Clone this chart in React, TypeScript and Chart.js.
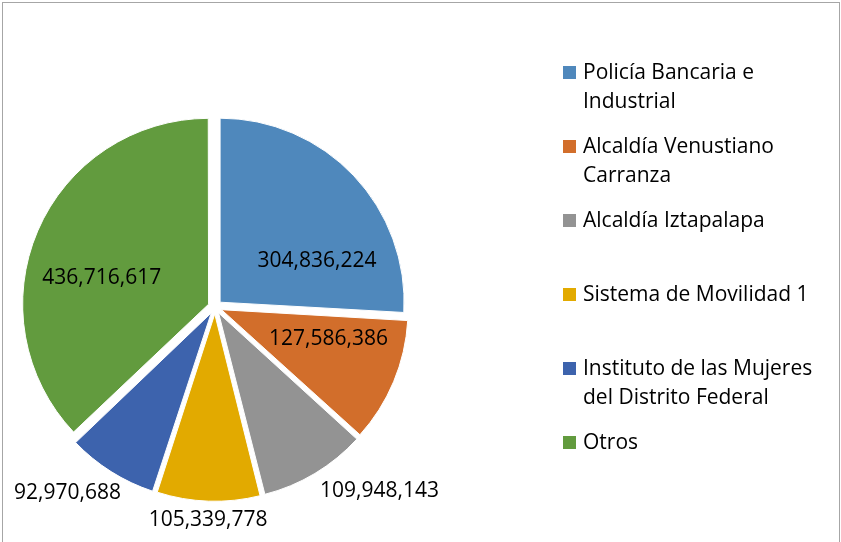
import React, { useEffect, useRef } from "react";
import { Chart, registerables } from "chart.js";

Chart.register(...registerables);

const categories: string[] = [
  "Policía Bancaria e Industrial",
  "Alcaldía Venustiano Carranza",
  "Alcaldía Iztapalapa",
  "Sistema de Movilidad 1",
  "Instituto de las Mujeres del Distrito Federal",
  "Otros",
];
const amounts: number[] = [304836224, 127586386, 109948143, 105339778, 92970688, 436716617];
const sliceColors: string[] = ["#4F88BC", "#D26E2B", "#939393", "#E2AA00", "#3D63AD", "#629B3E"];

const FONT = '"Open Sans", sans-serif';
const FONT_SIZE = 21;
const fmt = (v: number) => v.toLocaleString("en-US");

function wrap(ctx: CanvasRenderingContext2D, text: string, maxWidth: number): string[] {
  const words = text.split(" ");
  const lines: string[] = [];
  let cur = "";
  for (const w of words) {
    const test = cur ? cur + " " + w : w;
    if (cur && ctx.measureText(test).width > maxWidth) {
      lines.push(cur);
      cur = w;
    } else cur = test;
  }
  if (cur) lines.push(cur);
  return lines;
}

const framePlugin = {
  id: "frame",
  beforeDraw(chart: any) {
    const ctx = chart.ctx;
    ctx.save();
    ctx.fillStyle = "#ffffff";
    ctx.fillRect(0, 0, chart.width, chart.height);
    ctx.strokeStyle = "#a6a6a6";
    ctx.lineWidth = 1;
    ctx.strokeRect(2.5, 2.5, chart.width - 4, chart.height + 40);
    ctx.restore();
  },
};

const sliceLabelPlugin = {
  id: "sliceLabels",
  afterDatasetsDraw(chart: any) {
    const ctx: CanvasRenderingContext2D = chart.ctx;
    const meta = chart.getDatasetMeta(0);
    const data: number[] = chart.data.datasets[0].data;
    const total = data.reduce((a, b) => a + b, 0);
    const capH = FONT_SIZE * 0.72;
    const minLeft = 14;
    ctx.save();
    ctx.font = `${FONT_SIZE}px ${FONT}`;
    ctx.fillStyle = "#000000";
    ctx.textBaseline = "alphabetic";
    ctx.textAlign = "left";
    meta.data.forEach((arc: any, i: number) => {
      const { x, y, startAngle, endAngle, outerRadius } = arc.getProps(
        ["x", "y", "startAngle", "endAngle", "outerRadius"],
        true
      );
      const mid = (startAngle + endAngle) / 2;
      const shift = (arc.options.offset || 0) / 4;
      const dx = Math.cos(mid);
      const dy = Math.sin(mid);
      const cx = x + dx * shift;
      const cy = y + dy * shift;
      const inside = data[i] / total >= 0.1;
      const dist = inside ? outerRadius * 0.28 : outerRadius + 13;
      const ax = cx + dx * dist;
      const ay = cy + dy * dist;
      const text = fmt(data[i]);
      const w = ctx.measureText(text).width;
      let left = Math.abs(dx) < 0.15 ? ax - w / 2 : dx > 0 ? ax : ax - w;
      let baseline = dy > 0 ? ay + capH : ay;
      if (left < minLeft) {
        left = minLeft;
        baseline += 4;
      }
      ctx.fillText(text, left, baseline);
    });
    ctx.restore();
  },
};

const sideLegendPlugin = {
  id: "sideLegend",
  afterDraw(chart: any, _args: any, opts: any) {
    const ctx: CanvasRenderingContext2D = chart.ctx;
    const labels: string[] = chart.data.labels;
    const colors: string[] = chart.data.datasets[0].backgroundColor;
    ctx.save();
    ctx.font = `${FONT_SIZE}px ${FONT}`;
    ctx.textAlign = "left";
    ctx.textBaseline = "alphabetic";
    labels.forEach((lab, i) => {
      const lines = wrap(ctx, lab, opts.maxWidth);
      const base = opts.top + i * opts.step;
      ctx.fillStyle = colors[i];
      ctx.fillRect(opts.x, base - opts.box, opts.box, opts.box);
      ctx.fillStyle = "#000000";
      lines.forEach((ln, k) => ctx.fillText(ln, opts.x + opts.box + 7, base + k * opts.lineHeight));
    });
    ctx.restore();
  },
};

export default function App() {
  const ref = useRef<HTMLCanvasElement | null>(null);
  useEffect(() => {
    if (!ref.current) return;
    const chart = new Chart(ref.current, {
      type: "pie",
      data: {
        labels: categories,
        datasets: [
          {
            data: amounts,
            backgroundColor: sliceColors,
            borderColor: "#ffffff",
            borderWidth: 1,
            offset: 28,
            radius: 184,
          } as any,
        ],
      },
      options: {
        responsive: false,
        animation: false,
        events: [],
        layout: { padding: { left: 0, right: 411, top: 72, bottom: 0 } },
        plugins: {
          legend: { display: false },
          tooltip: { enabled: false },
          title: { display: false },
          sideLegend: { x: 563, top: 79, step: 74, box: 13, lineHeight: 29, maxWidth: 248 },
        } as any,
      },
      plugins: [framePlugin, sliceLabelPlugin, sideLegendPlugin],
    });
    return () => chart.destroy();
  }, []);
  return (
    <div style={{ position: "fixed", left: 0, top: 0, width: 841, height: 542, background: "#fff" }}>
      <canvas ref={ref} width={841} height={542} style={{ display: "block", width: 841, height: 542 }} />
    </div>
  );
}
